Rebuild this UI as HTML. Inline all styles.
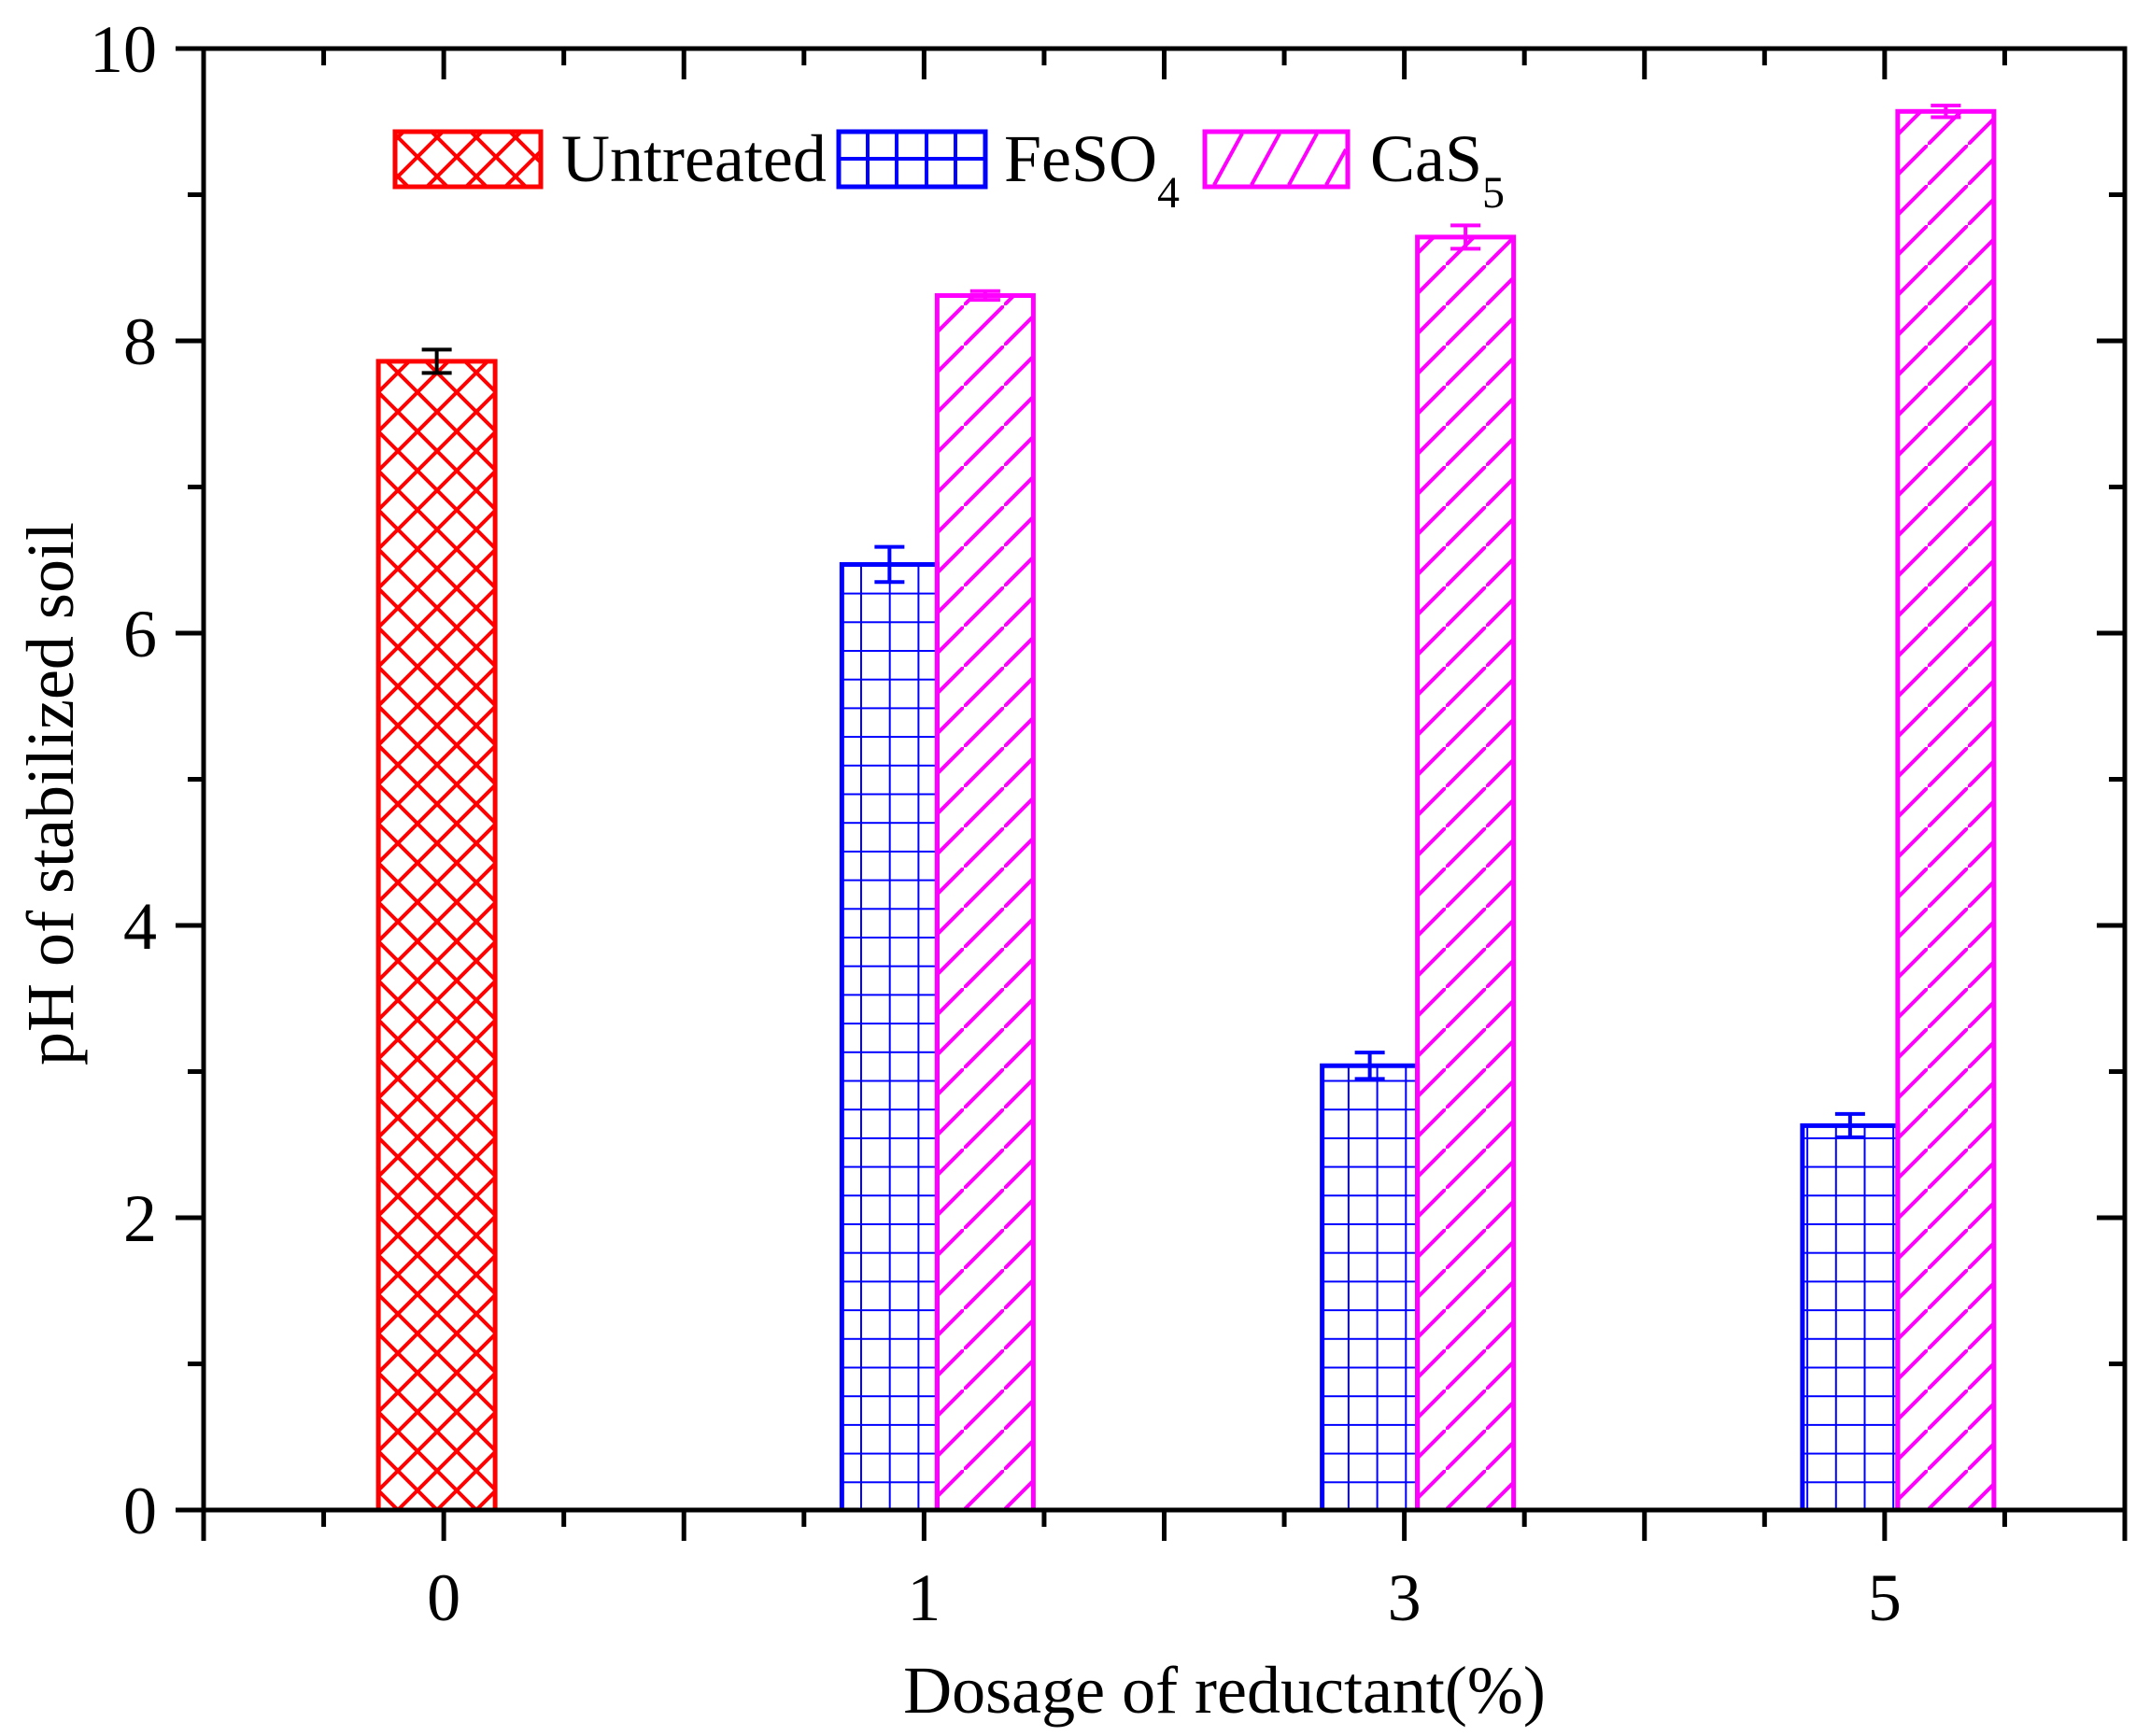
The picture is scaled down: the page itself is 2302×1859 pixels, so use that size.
<!DOCTYPE html>
<html><head><meta charset="utf-8"><style>
html,body{margin:0;padding:0;background:#fff;}
svg{display:block;font-family:"Liberation Serif",serif;}
</style></head><body>
<svg id="chart" width="2302" height="1859" viewBox="0 0 2302 1859" xmlns="http://www.w3.org/2000/svg">
<defs>
<pattern id="pat-cross" patternUnits="userSpaceOnUse" width="42" height="42" x="405" y="0">
<path d="M0 0L42 42M42 0L0 42M-21 21L0 42M21 -21L63 21M-21 21L0 0M42 42L63 21" stroke="#ff0000" stroke-width="4" fill="none"/>
</pattern>
<pattern id="pat-grid" patternUnits="userSpaceOnUse" width="30.7" height="30.7" y="1617">
<path d="M0 0V30.7M0 0H30.7" stroke="#0000ff" stroke-width="4" fill="none"/>
</pattern>
<pattern id="pat-diag" patternUnits="userSpaceOnUse" width="43" height="43" y="1617">
<path d="M-5 48L48 -5" stroke="#ff00ff" stroke-width="4" fill="none"/>
</pattern>
</defs>
<g id="bars"></g>
<g id="axes"></g>
<g id="legend">
<rect x="423" y="141" width="156" height="59" fill="url(#pat-cross)" stroke="#ff0000" stroke-width="5"/>
<text x="601" y="194" font-size="72">Untreated</text>
<rect x="898" y="141" width="157" height="59" fill="#fff" stroke="#0000ff" stroke-width="5"/>
<path d="M929 141V200M960 141V200M992 141V200M1023 141V200M898 170H1055" stroke="#0000ff" stroke-width="4"/>
<text x="1075" y="194" font-size="72">FeSO<tspan font-size="48" dy="28">4</tspan></text>
<rect x="1290" y="141" width="153" height="59" fill="#fff" stroke="#ff00ff" stroke-width="5"/>
<path d="M1300 198L1330 143M1340 198L1370 143M1380 198L1410 143M1420 198L1441 160" stroke="#ff00ff" stroke-width="4"/>
<text x="1467" y="194" font-size="72">CaS<tspan font-size="48" dy="28">5</tspan></text>
</g>
</svg>
<script>
const categories = ["0", "1", "3", "5"];
const untreatedVals = [7.86, null, null, null];
const untreatedErr = [0.08, null, null, null];
const feso4Vals = [null, 6.47, 3.04, 2.63];
const feso4Err = [null, 0.12, 0.09, 0.08];
const cas5Vals = [null, 8.31, 8.71, 9.57];
const cas5Err = [null, 0.03, 0.08, 0.04];
const yTicks = [0, 2, 4, 6, 8, 10];

const NS = "http://www.w3.org/2000/svg";
const L = 218, R = 2275, T = 52, B = 1617;
const yScale = v => B - (v / 10) * (B - T);
const slot = (R - L) / 8;
const xCat = i => L + slot * (2 * i + 1);
function mk(tag, attrs, parent) {
  const e = document.createElementNS(NS, tag);
  for (const k in attrs) e.setAttribute(k, attrs[k]);
  parent.appendChild(e);
  return e;
}
const bars = document.getElementById('bars');
const axes = document.getElementById('axes');

function drawBar(i, v, err, x0, w, fill, stroke, ecolor, name) {
  if (v == null) return;
  const y = yScale(v);
  const r = mk('rect', {x: x0, y: y, width: w, height: B - y, fill: fill, stroke: stroke, 'stroke-width': 5}, bars);
  
  
  const cx = x0 + w / 2, yt = yScale(v + err), yb = yScale(v - err);
  const e = mk('path', {d: `M${cx} ${yt}V${yb}M${cx-16} ${yt}H${cx+16}M${cx-16} ${yb}H${cx+16}`, stroke: ecolor, 'stroke-width': 4, fill: 'none'}, bars);
  
  
}
categories.forEach((c, i) => {
  const cx = xCat(i);
  drawBar(i, untreatedVals[i], untreatedErr[i], cx - 70, 125, 'url(#pat-cross)', '#ff0000', '#000', 'untreated');
  drawBar(i, feso4Vals[i], feso4Err[i], cx + 14 - 102, 102, 'url(#pat-grid)', '#0000ff', '#0000ff', 'feso4');
  drawBar(i, cas5Vals[i], cas5Err[i], cx + 14, 103, 'url(#pat-diag)', '#ff00ff', '#ff00ff', 'cas5');
});

// frame
const f = mk('rect', {x: L, y: T, width: R - L, height: B - T, fill: 'none', stroke: '#000', 'stroke-width': 5}, axes);


// y ticks
let d = '';
for (let v = 0; v <= 10; v += 1) {
  const y = yScale(v);
  const len = v % 2 === 0 ? 30 : 17;
  d += `M${L - len} ${y}H${L}M${R} ${y}H${R - len}`;
}
// x ticks
for (let k = 0; k <= 16; k++) {
  const x = L + slot * k / 2;
  const len = k % 2 === 0 ? 33 : 18;
  d += `M${x} ${B}V${B + len}M${x} ${T}V${T + len}`;
}
const tk = mk('path', {d: d, stroke: '#000', 'stroke-width': 5, fill: 'none'}, axes);


yTicks.forEach(v => {
  const t = mk('text', {x: 168, y: yScale(v) + 25, 'font-size': 72, 'text-anchor': 'end'}, axes);
  t.textContent = String(v);
  
  
});
categories.forEach((c, i) => {
  const t = mk('text', {x: xCat(i), y: 1735, 'font-size': 72, 'text-anchor': 'middle'}, axes);
  t.textContent = c;
  
  
});
const xt = mk('text', {x: 1311, y: 1834, 'font-size': 72, 'text-anchor': 'middle'}, axes);
xt.textContent = 'Dosage of reductant(%)';


const yt = mk('text', {x: 0, y: 0, 'font-size': 72, 'text-anchor': 'middle', transform: 'translate(78 850) rotate(-90)'}, axes);
yt.textContent = 'pH of stabilized soil';


</script>
</body></html>
